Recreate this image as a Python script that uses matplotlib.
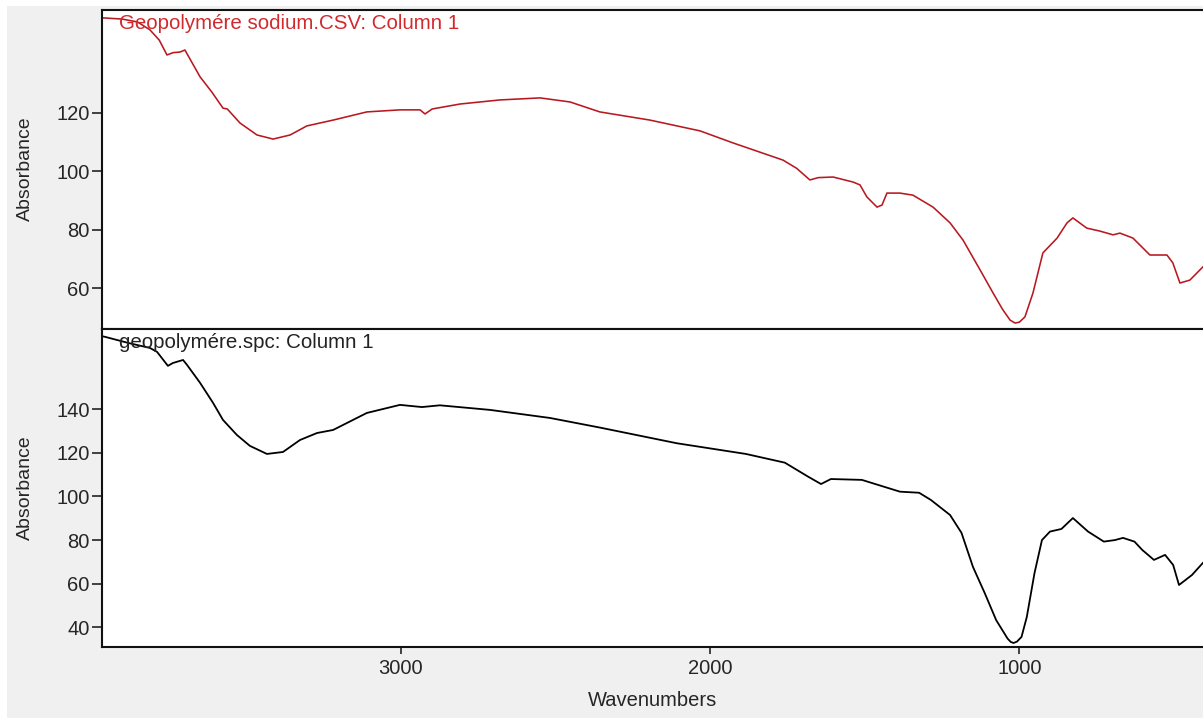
import numpy as np
import matplotlib
matplotlib.use("Agg")
import matplotlib.pyplot as plt
from matplotlib.patches import Rectangle

plt.rcParams['font.family'] = ['Liberation Sans', 'DejaVu Sans']

# Sodium geopolymer spectrum (top panel)
wn_sodium = [3965, 3962, 3900, 3850, 3810, 3780, 3755, 3735, 3713, 3697, 3680,
             3648, 3610, 3574, 3560, 3519, 3464, 3412, 3357, 3303, 3218, 3109,
             3002, 2937, 2921, 2898, 2808, 2679, 2549, 2452, 2356, 2194, 2032,
             1926, 1764, 1720, 1677, 1650, 1602, 1538, 1515, 1493, 1460, 1444,
             1428, 1386, 1344, 1279, 1224, 1182, 1127, 1085, 1055, 1030, 1014,
             1000, 982, 956, 924, 878, 846, 827, 782, 740, 697, 675, 633, 578,
             523, 504, 481, 449, 407]
abs_sodium = [152.5, 152.5, 152.1, 151.1, 148.4, 144.9, 139.8, 140.6, 140.8,
              141.5, 138.3, 132.3, 127.1, 121.6, 121.3, 116.5, 112.4, 111.0,
              112.4, 115.5, 117.5, 120.3, 121.0, 121.0, 119.6, 121.3, 123.0,
              124.4, 125.1, 123.7, 120.3, 117.5, 113.8, 109.7, 103.8, 101.0,
              97.0, 97.8, 98.0, 96.3, 95.3, 91.2, 87.7, 88.4, 92.5, 92.5, 91.8,
              87.7, 82.3, 76.4, 66.2, 58.3, 52.8, 49.0, 48.0, 48.3, 50.1, 58.3,
              72.0, 77.1, 82.3, 84.0, 80.5, 79.5, 78.2, 78.8, 77.1, 71.3, 71.3,
              68.6, 61.7, 62.7, 67.2]

# Geopolymer spectrum (bottom panel)
wn_geo = [3965, 3955, 3880, 3810, 3787, 3752, 3736, 3703, 3690, 3648, 3606,
          3574, 3529, 3487, 3432, 3380, 3325, 3270, 3218, 3109, 3002, 2931,
          2873, 2711, 2517, 2356, 2107, 1884, 1758, 1683, 1641, 1609, 1509,
          1386, 1324, 1286, 1224, 1187, 1150, 1112, 1075, 1038, 1028, 1019,
          1008, 993, 976, 951, 927, 901, 864, 827, 778, 727, 691, 665, 628,
          603, 565, 529, 503, 484, 442, 407]
abs_geo = [173.5, 173.2, 170.4, 168.1, 166.3, 159.9, 161.2, 162.6, 160.3,
           152.1, 142.9, 135.1, 128.2, 123.2, 119.5, 120.4, 125.9, 129.1,
           130.5, 138.3, 142.0, 141.0, 141.8, 139.7, 136.0, 131.6, 124.4,
           119.5, 115.5, 109.1, 105.7, 108.0, 107.6, 102.2, 101.7, 98.4,
           91.5, 83.3, 67.7, 55.7, 43.3, 34.8, 33.3, 32.8, 33.4, 35.6, 44.7,
           64.9, 80.0, 83.9, 85.1, 90.1, 83.9, 79.3, 80.0, 81.0, 79.3, 75.5,
           70.9, 73.2, 68.6, 59.4, 64.0, 69.5]

x_ticks = [3000, 2000, 1000]
top_yticks = [60, 80, 100, 120]
bottom_yticks = [40, 60, 80, 100, 120, 140]

W, H = 1203, 718
fig = plt.figure(figsize=(W / 100, H / 100), dpi=100, facecolor='white')

# grey window background behind the plot panels
fig.patches.append(Rectangle((7 / W, 0), 1, 1 - 6 / H, transform=fig.transFigure,
                             facecolor='#f0f0f0', edgecolor='none', zorder=-10))

left = 102 / W
width = (1205 - 102) / W
ax_top = fig.add_axes([left, 1 - 329 / H, width, 319 / H])
ax_bot = fig.add_axes([left, 1 - 647 / H, width, 318 / H])

text_color = '#262626'
for ax in (ax_top, ax_bot):
    ax.set_zorder(1)
    ax.set_facecolor('white')
    ax.set_xlim(3965, 400)
    for sp in ax.spines.values():
        sp.set_linewidth(1.5)
        sp.set_color('#111111')
    ax.spines['right'].set_visible(False)
    ax.tick_params(axis='y', direction='out', length=7, width=1.1, pad=2,
                   labelsize=14.5, labelcolor=text_color, color='#111111')
    ax.tick_params(axis='x', direction='out', length=5, width=1.1, pad=4,
                   labelsize=14.5, labelcolor=text_color, color='#111111')

ax_top.plot(wn_sodium, abs_sodium, color='#b81820', lw=1.15)
ax_top.set_ylim(45.96, 155.2)
ax_top.set_yticks(top_yticks)
ax_top.set_xticks([])

ax_bot.plot(wn_geo, abs_geo, color='black', lw=1.3)
ax_bot.set_ylim(30.96, 176.8)
ax_bot.set_yticks(bottom_yticks)
ax_bot.set_xticks(x_ticks)

fig.text(119 / W, 1 - 29 / H, 'Geopolymére sodium.CSV: Column 1', color='#d02a2e',
         fontsize=14.8, va='baseline', ha='left', zorder=5)
fig.text(119 / W, 1 - 348 / H, 'geopolymére.spc: Column 1', color='#222222',
         fontsize=14.8, va='baseline', ha='left', zorder=5)

fig.text(25 / W, 1 - 169 / H, 'Absorbance', rotation=90, ha='center', va='center',
         fontsize=14, color=text_color)
fig.text(25 / W, 1 - 488 / H, 'Absorbance', rotation=90, ha='center', va='center',
         fontsize=14, color=text_color)
fig.text(653 / W, 1 - 700 / H, 'Wavenumbers', ha='center', va='center',
         fontsize=14.5, color=text_color)

fig.savefig('out.png', dpi=100, facecolor='white')
